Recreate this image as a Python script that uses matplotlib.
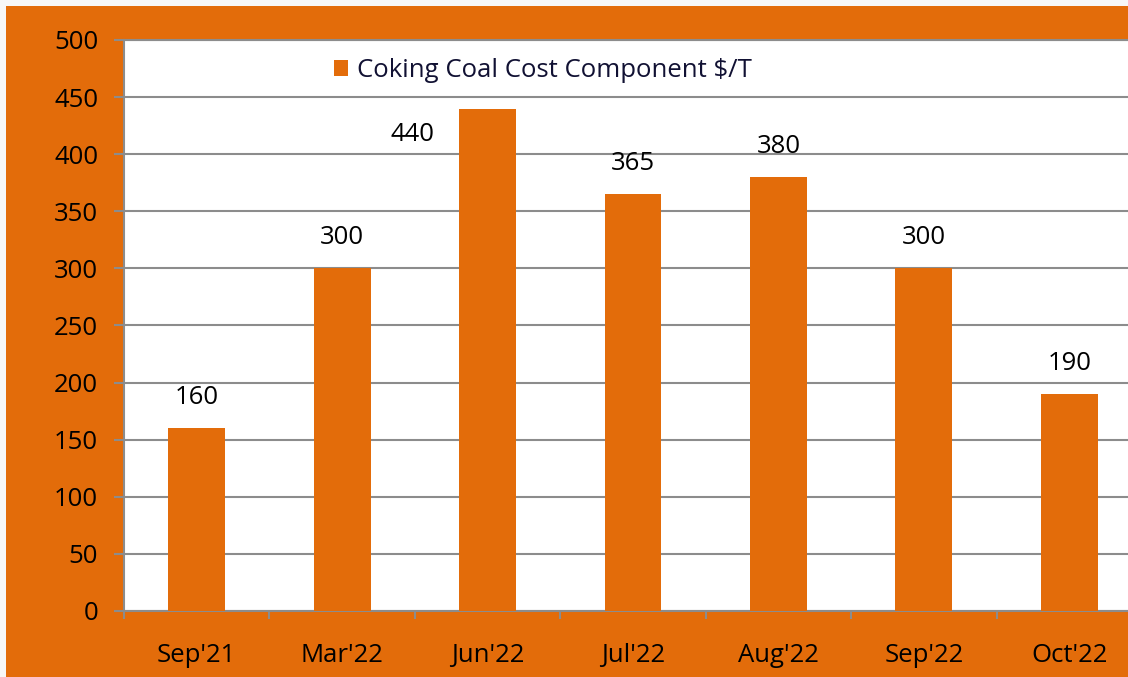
import matplotlib.pyplot as plt
from matplotlib.patches import Rectangle
import numpy as np


ORANGE = "#E36C0A"
GRID_GRAY = "#8C8C8C"

MONTHS = ["Sep'21", "Mar'22", "Jun'22", "Jul'22", "Aug'22", "Sep'22", "Oct'22"]
COST = [160, 300, 440, 365, 380, 300, 190]
SERIES_NAME = "Coking Coal Cost Component $/T"
Y_TICKS = list(range(0, 501, 50))

# label offsets in points (Excel had the Jun'22 one dragged to the left)
LABEL_OFFSETS = {2: (-54, -19)}
DEFAULT_OFFSET = (0, 22)

W, H = 1128, 677
FS = 18.5

plt.rcParams["font.family"] = ["Open Sans", "DejaVu Sans"]

fig = plt.figure(figsize=(W / 100, H / 100), dpi=100, facecolor=ORANGE)

# thin light strip on the top and left edge of the screenshot
fig.patches.append(Rectangle((0, 1 - 6 / H), 1, 6 / H, transform=fig.transFigure,
                             facecolor="#F7F7F7", edgecolor="none", zorder=0))
fig.patches.append(Rectangle((0, 0), 6 / W, 1, transform=fig.transFigure,
                             facecolor="#F7F7F7", edgecolor="none", zorder=0))

# plot area runs past the right edge, like the cropped original
left, right, top, bottom = 124, 1142, 40, 611
ax = fig.add_axes([left / W, (H - bottom) / H, (right - left) / W, (bottom - top) / H])
ax.set_facecolor("white")

x = np.arange(len(MONTHS))
ax.bar(x, COST, width=0.39, color=ORANGE, zorder=3, label=SERIES_NAME)

for i, v in enumerate(COST):
    dx, dy = LABEL_OFFSETS.get(i, DEFAULT_OFFSET)
    ax.annotate(str(v), (x[i], v), xytext=(dx, dy), textcoords="offset points",
                ha="center", va="center", fontsize=FS, color="black", zorder=4)

ax.set_xlim(-0.5, len(MONTHS) - 0.5)
ax.set_ylim(0, 500)
ax.set_yticks(Y_TICKS)
ax.set_yticklabels([str(t) for t in Y_TICKS], fontsize=FS)
ax.set_xticks(x)
ax.set_xticklabels(MONTHS, fontsize=FS)
ax.set_xticks(np.arange(-0.5, len(MONTHS)), minor=True)

ax.tick_params(axis="x", which="major", length=0, pad=23, colors="black")
ax.tick_params(axis="x", which="minor", length=6, width=1.5, color=GRID_GRAY)
ax.tick_params(axis="y", length=7.5, width=1.5, color=GRID_GRAY, pad=11, labelcolor="black")

ax.grid(axis="y", color=GRID_GRAY, linewidth=1.5, zorder=0)
ax.set_axisbelow(True)

for side in ["left", "bottom", "top"]:
    ax.spines[side].set_color(GRID_GRAY)
    ax.spines[side].set_linewidth(1.5)
ax.spines["right"].set_visible(False)

leg = ax.legend(loc="upper left", bbox_to_anchor=((316 - left) / (right - left), 1.0),
                frameon=False, fontsize=FS, handlelength=0.55, handleheight=0.55,
                handletextpad=0.35, borderaxespad=0.3)
for t in leg.get_texts():
    t.set_color("#111133")

fig.savefig("out.png", dpi=100, facecolor=ORANGE)
